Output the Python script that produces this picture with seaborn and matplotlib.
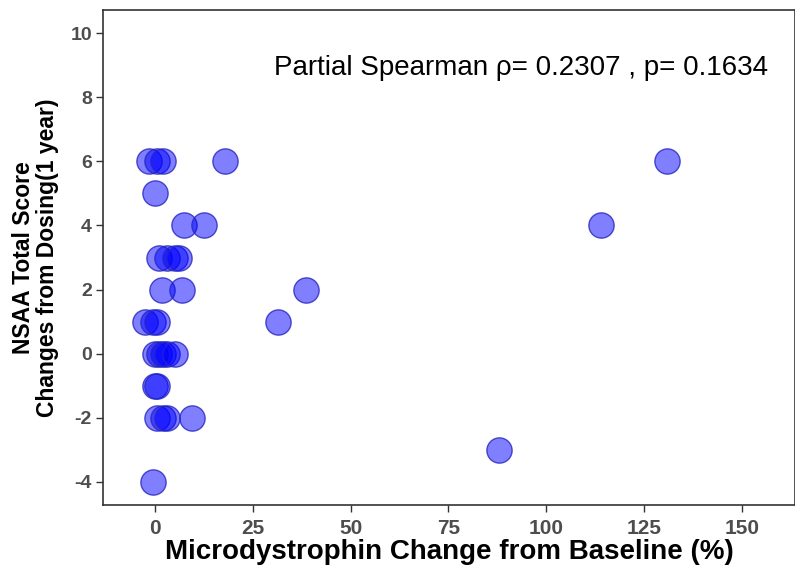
import matplotlib
matplotlib.use("Agg")
import matplotlib.pyplot as plt
import seaborn as sns
import pandas as pd

microdystrophin = [-1.5, 0.5, 2, 18, 131,
                   0,
                   7.5, 12.5, 114,
                   1, 3, 5, 6,
                   1.8, 7, 38.5,
                   -2.5, -0.5, 0.5, 31.5,
                   0, 1, 2, 3, 5,
                   0, 0.5,
                   0.5, 2, 3, 9.5,
                   88,
                   -0.5]
nsaa_change = [6, 6, 6, 6, 6,
               5,
               4, 4, 4,
               3, 3, 3, 3,
               2, 2, 2,
               1, 1, 1, 1,
               0, 0, 0, 0, 0,
               -1, -1,
               -2, -2, -2, -2,
               -3,
               -4]
x_ticks = [0, 25, 50, 75, 100, 125, 150]
y_ticks = [-4, -2, 0, 2, 4, 6, 8, 10]
annotation = "Partial Spearman \u03c1= 0.2307 , p= 0.1634"

df = pd.DataFrame({"x": microdystrophin, "y": nsaa_change})

sns.set_theme(style="white")
plt.rcParams["font.family"] = ["Liberation Sans", "DejaVu Sans"]

fig = plt.figure(figsize=(7.95, 5.76), dpi=100)
ax = fig.add_axes([0.1296, 0.1233, 0.8704, 0.8593])

sns.scatterplot(data=df, x="x", y="y", ax=ax, s=330, color=(0, 0, 1, 0.5),
                edgecolor=(0.15, 0.15, 0.75, 0.8), linewidth=1.0, legend=False)

ax.set_xlim(-13.3, 163.6)
ax.set_ylim(-4.72, 10.72)
ax.set_xticks(x_ticks)
ax.set_yticks(y_ticks)
ax.set_xticklabels([str(t) for t in x_ticks], fontsize=15, fontweight="bold",
                   color="#4d4d4d")
ax.set_yticklabels([str(t) for t in y_ticks], fontsize=14, fontweight="bold",
                   color="#4d4d4d")
ax.tick_params(axis="x", which="both", direction="out", length=5, width=1,
               color="#333333", bottom=True, pad=5)
ax.tick_params(axis="y", which="both", direction="out", length=5, width=1,
               color="#333333", left=True, pad=3)
for sp in ax.spines.values():
    sp.set_color("#333333")
    sp.set_linewidth(1.2)

ax.set_xlabel("Microdystrophin Change from Baseline (%)", fontsize=20,
              fontweight="bold", color="black", labelpad=1)
ax.set_ylabel("NSAA Total Score\nChanges from Dosing(1 year)", fontsize=16.5,
              fontweight="bold", color="black", labelpad=8, linespacing=1.05)

ax.text(93.6, 8.9, annotation, fontsize=20, ha="center", va="center", color="black")

fig.savefig("out.png", dpi=100)
